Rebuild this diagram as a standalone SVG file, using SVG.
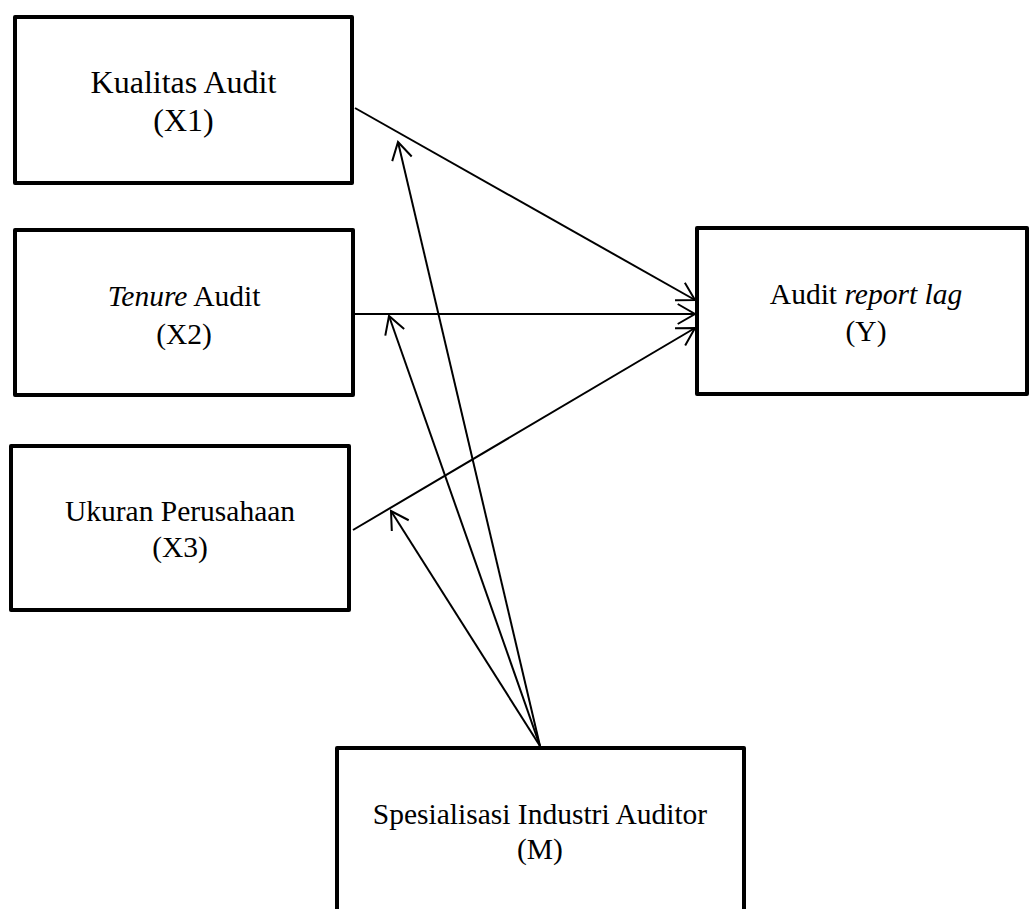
<svg xmlns="http://www.w3.org/2000/svg" width="1031" height="909" viewBox="0 0 1031 909">
<defs>
<style>
.box{fill:#fff;stroke:#000;stroke-width:4;stroke-linejoin:round}
.t{font-family:"Liberation Serif","Times New Roman",serif;font-size:29.5px;fill:#000;text-anchor:middle}
.big{font-size:32px}
.c{stroke:#000;stroke-width:2;fill:none}
</style>
<marker id="ah" markerUnits="userSpaceOnUse" viewBox="-20 -12 22 24" refX="0" refY="0" markerWidth="22" markerHeight="24" orient="auto" overflow="visible">
<path d="M-17.3,-10 L0,0 L-17.3,10" fill="none" stroke="#000" stroke-width="2"/>
</marker>
</defs>
<rect width="1031" height="909" fill="#fff"/>
<g id="x1"><rect class="box" x="15" y="17" width="337" height="166"/>
<text class="t big" x="183.5" y="93">Kualitas Audit</text><text class="t big" x="183.5" y="131">(X1)</text></g>
<g id="x2"><rect class="box" x="15" y="230" width="338" height="165"/>
<text class="t" x="184" y="306"><tspan font-style="italic">Tenure</tspan> Audit</text><text class="t" x="184" y="344">(X2)</text></g>
<g id="x3"><rect class="box" x="11" y="446" width="338" height="164"/>
<text class="t" x="180" y="521">Ukuran Perusahaan</text><text class="t" x="180" y="557">(X3)</text></g>
<g id="y"><rect class="box" x="697" y="228" width="330" height="166"/>
<text class="t" x="866" y="304">Audit <tspan font-style="italic">report lag</tspan></text><text class="t" x="866" y="341">(Y)</text></g>
<g id="m"><rect class="box" x="337" y="748" width="407" height="200"/>
<text class="t" x="540" y="824">Spesialisasi Industri Auditor</text><text class="t" x="540" y="859">(M)</text></g>
<g id="connectors">
<line class="c" x1="355" y1="108" x2="695" y2="300" marker-end="url(#ah)"/>
<line class="c" x1="355" y1="314" x2="695" y2="314" marker-end="url(#ah)"/>
<line class="c" x1="353" y1="530" x2="695" y2="328" marker-end="url(#ah)"/>
<line class="c" x1="540" y1="746" x2="398" y2="142" marker-end="url(#ah)"/>
<line class="c" x1="540" y1="746" x2="389" y2="316" marker-end="url(#ah)"/>
<line class="c" x1="540" y1="746" x2="391" y2="511" marker-end="url(#ah)"/>
</g>
</svg>
